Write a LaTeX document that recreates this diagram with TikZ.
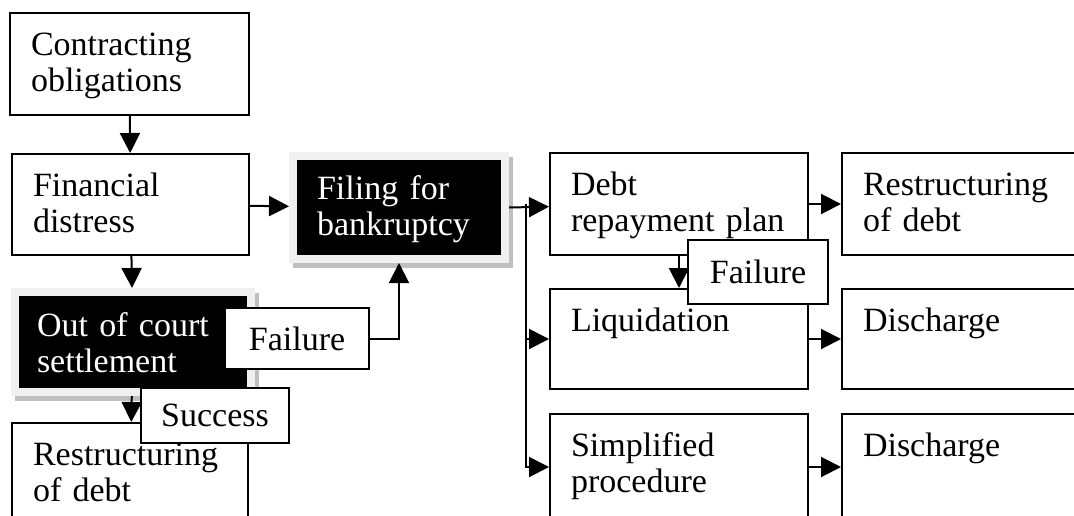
\documentclass[tikz,border=0pt]{standalone}
\usepackage{fontspec}
\setmainfont{Liberation Serif}
\usepackage{tikz}
\usetikzlibrary{arrows.meta, positioning}
\newcommand{\flowfont}{\fontsize{34}{36}\selectfont}
\tikzstyle{box}      = [rectangle, anchor=north west, draw=black, line width=2pt, inner xsep=21pt, inner ysep=0pt, text height=42pt, align=left, font=\flowfont]
\tikzstyle{blackbox} = [rectangle, anchor=north west, fill=black, text=white, draw=black!6, line width=8pt, inner ysep=0pt, align=left, font=\flowfont,
                        preaction={draw=black!25, fill=black!25, line width=8pt, transform canvas={shift={(4pt,-5pt)}}}]
\tikzstyle{outcome}  = [rectangle, draw=black, fill=white, line width=2pt, inner sep=0pt, text centered, font=\flowfont]
\tikzstyle{arrow}    = [line width=2pt, -{Triangle[length=20pt,width=20pt]}]

\begin{document}
\begin{tikzpicture}[x=1pt, y=-1pt]
    \useasboundingbox (0,0) rectangle (1074,515);
    \clip (0,0) rectangle (1074,515);

    \node (contr) at (9,12)    [box, text width=197pt, text depth=60pt] {Contracting\\obligations};
    \node (fin)   at (11,153)  [box, text width=195pt, text depth=59pt] {Financial\\distress};
    \node (restl) at (11,422)  [box, text width=194pt, text depth=66pt] {Restructuring\\of debt};
    \node (debt)  at (549,152) [box, text width=216pt, text depth=60pt] {Debt\\repayment plan};
    \node (liq)   at (549,288) [box, text width=216pt, text depth=58pt] {Liquidation};
    \node (simp)  at (549,413) [box, text width=216pt, text depth=64pt] {Simplified\\procedure};
    \node (restr) at (841,152) [box, text width=207pt, text depth=60pt] {Restructuring\\of debt};
    \node (dis1)  at (841,288) [box, text width=207pt, text depth=58pt] {Discharge};
    \node (dis2)  at (841,413) [box, text width=207pt, text depth=64pt] {Discharge};

    \node (ooc)    at (11,288)  [blackbox, inner xsep=22pt, text width=192pt, text height=44pt, text depth=56pt] {Out of court\\settlement};
    \node (filing) at (289,152) [blackbox, inner xsep=24pt, text width=164pt, text height=43pt, text depth=60pt] {Filing for\\bankruptcy};

    \coordinate (fork) at (526,203.5);

    \draw [arrow] (contr) -- (fin);
    \draw [arrow] (fin) -- (ooc);
    \draw [arrow] (ooc) -- (restl);
    \draw [arrow] (fin) -- (filing);
    \draw [arrow] (filing.east) -- (debt);
    \draw [arrow] (fork) |- (liq.west);
    \draw [arrow] (fork) |- (simp.west);
    \draw [arrow] (debt) -- (liq);
    \draw [arrow] (debt) -- (restr);
    \draw [arrow] (liq) -- (dis1);
    \draw [arrow] (simp) -- (dis2);

    \node (failA) at (297,338.5) [outcome, minimum width=144pt, minimum height=61pt] {Failure};
    \node (succ)  at (215,415.5) [outcome, minimum width=148pt, minimum height=55pt] {Success};
    \node (failB) at (758,272)   [outcome, minimum width=140pt, minimum height=64pt] {Failure};

    \draw [arrow] (failA.east) -| (filing.south);
\end{tikzpicture}
\end{document}
